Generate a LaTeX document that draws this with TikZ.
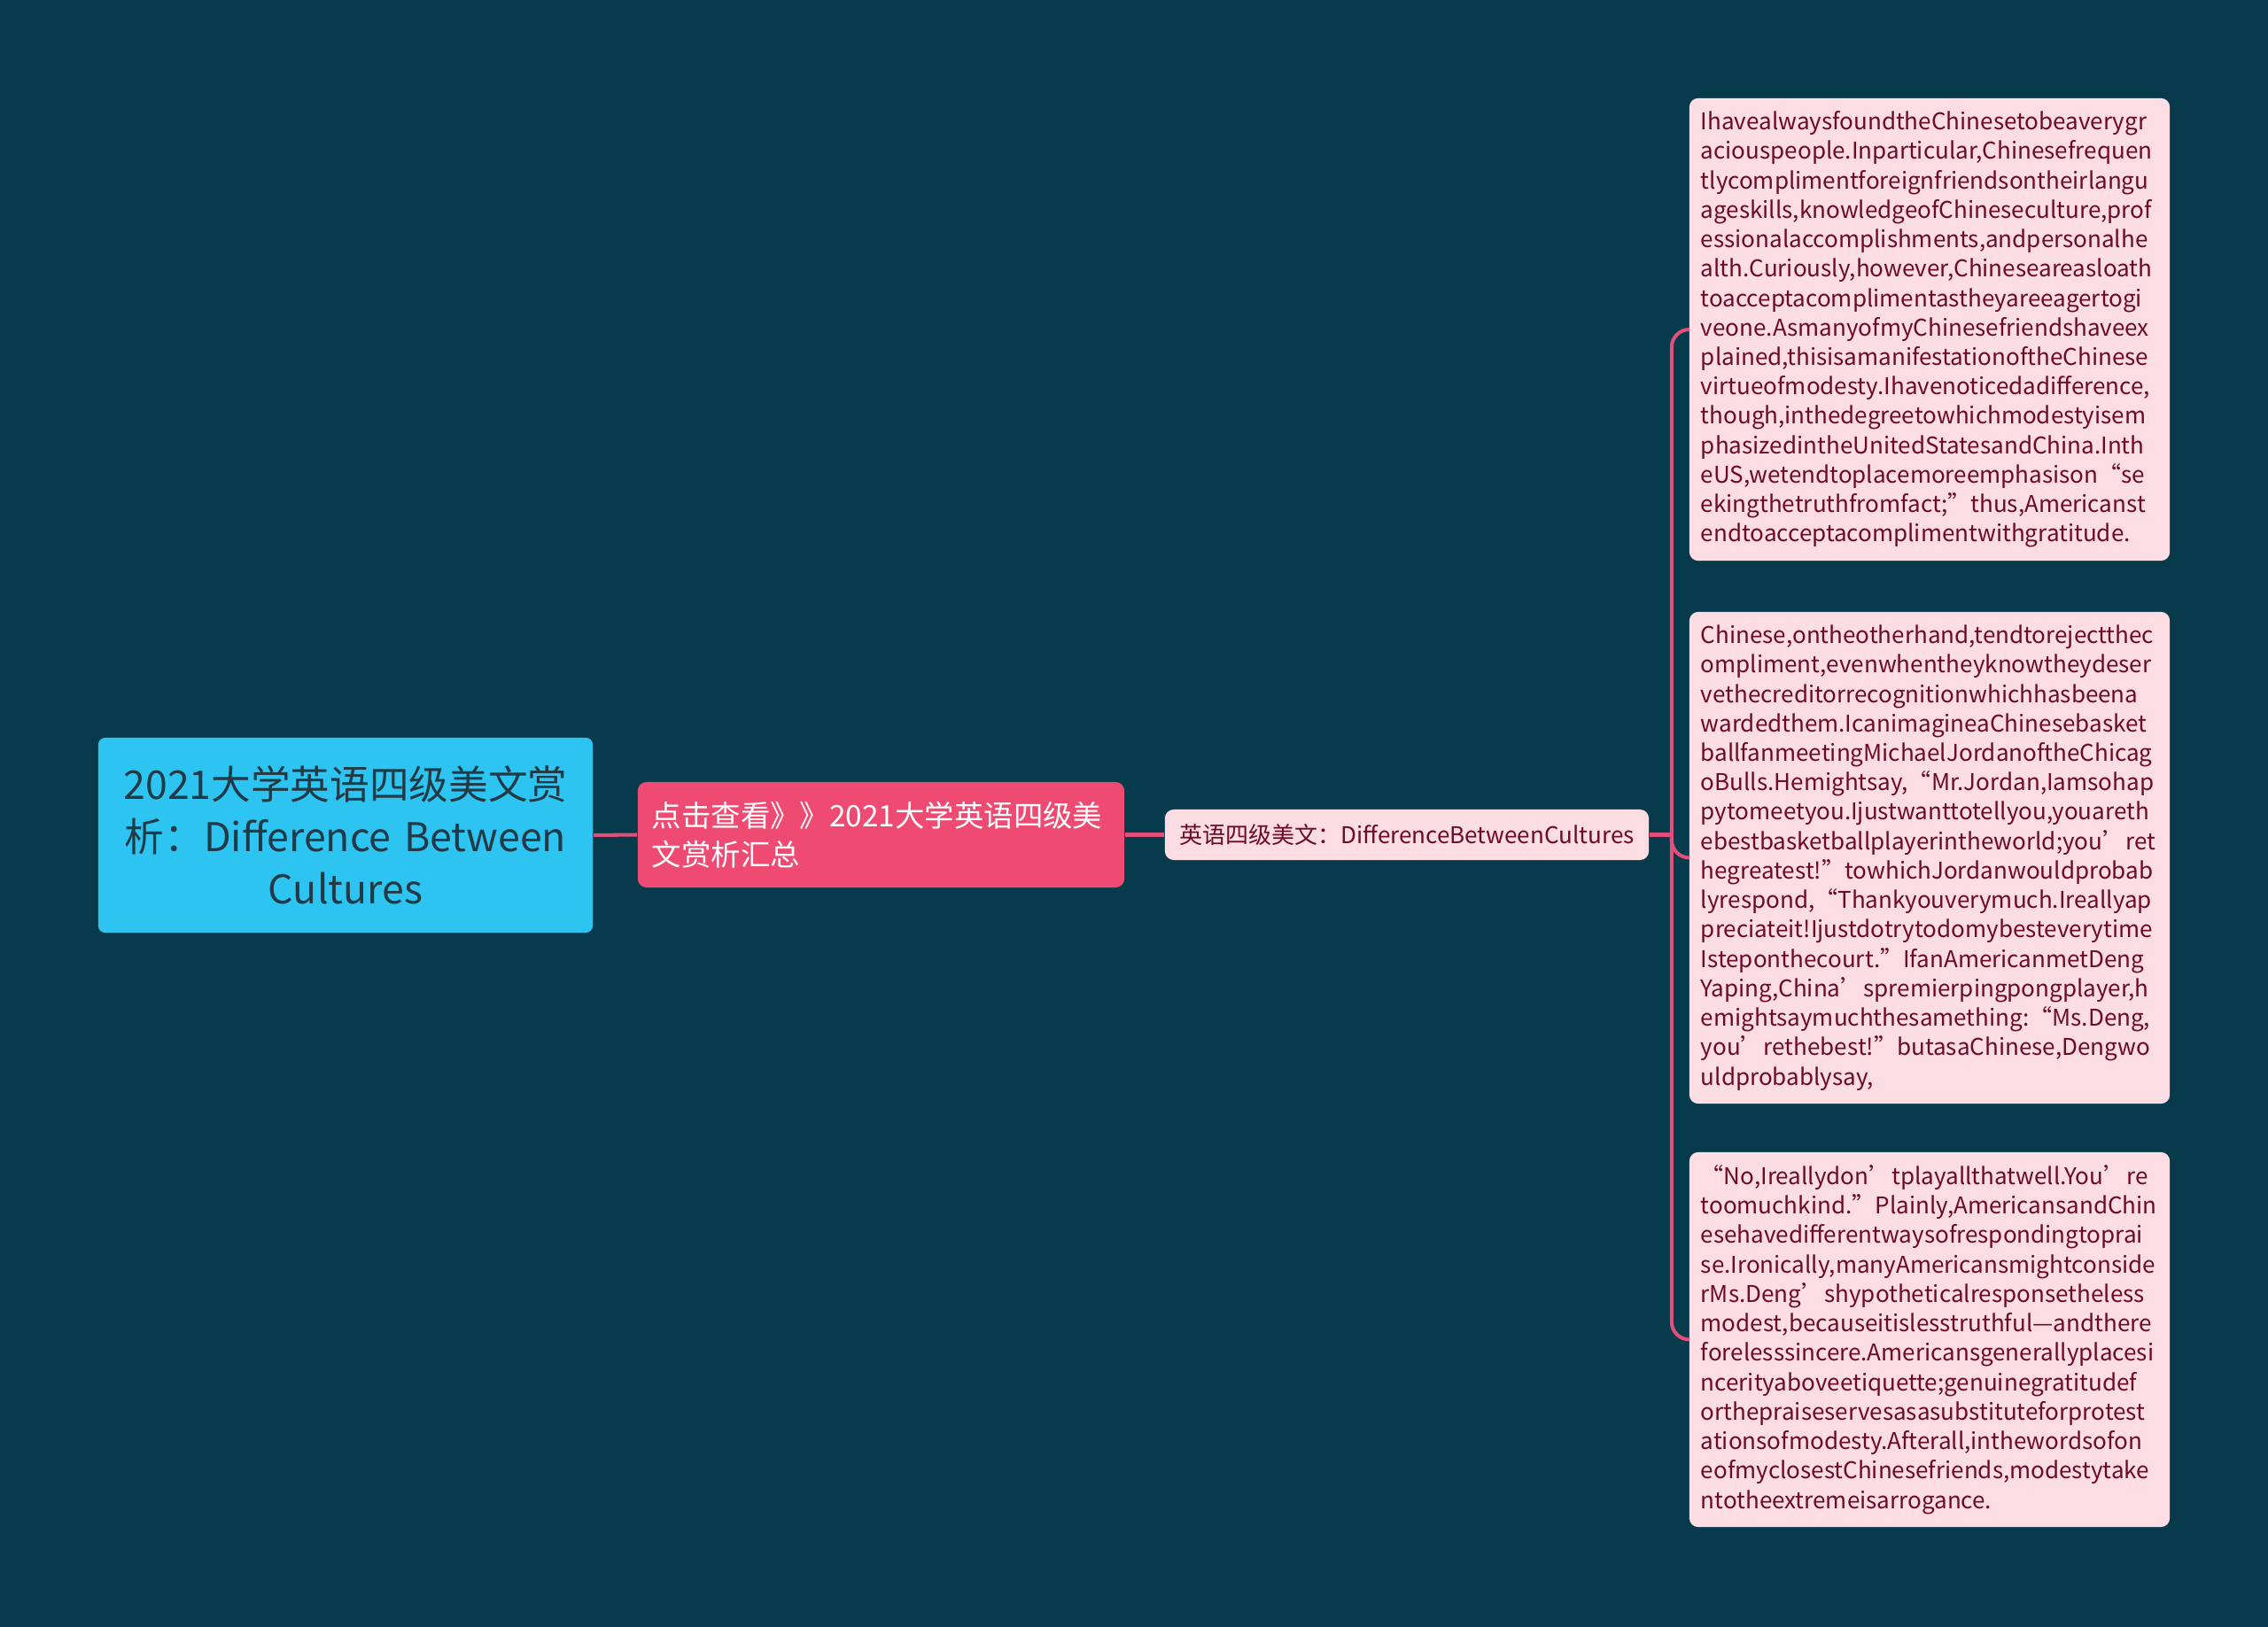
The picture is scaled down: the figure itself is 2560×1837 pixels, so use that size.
\documentclass[tikz,border=0pt]{standalone}
\usepackage{fontspec}
\setmainfont{Noto Sans CJK SC}
\usetikzlibrary{calc, positioning}
\AtBeginDocument{\hyphenpenalty=10000 \exhyphenpenalty=10000 }

\definecolor{bgteal}{HTML}{073B4C}
\definecolor{rootcyan}{HTML}{2EC4F2}
\definecolor{roottext}{HTML}{213A45}
\definecolor{sumpink}{HTML}{EE4A72}
\definecolor{leafpink}{HTML}{FCDDE3}
\definecolor{leaftext}{HTML}{6E0B24}
\definecolor{linkpink}{HTML}{E0507A}

\tikzset{
  rootbox/.style={fill=rootcyan, text=roottext, rounded corners=0.08cm,
    minimum width=5.58cm, minimum height=2.2cm, inner sep=0.1cm,
    text width=5.38cm, align=center, font=\fontsize{12.7pt}{16.7pt}\selectfont},
  sumbox/.style={fill=sumpink, text=white, rounded corners=0.1cm,
    minimum width=5.49cm, minimum height=1.19cm, inner sep=0.16cm,
    text width=5.17cm, align=left, font=\fontsize{9.5pt}{12.5pt}\selectfont},
  leafbox/.style={fill=leafpink, text=leaftext, rounded corners=0.1cm,
    minimum width=5.42cm, inner sep=0.13cm, text width=5.16cm, align=left,
    font=\fontsize{7.4pt}{9.45pt}\selectfont},
  titlebox/.style={leafbox, minimum width=5.4cm, minimum height=0.57cm,
    text width=5.2cm, align=center},
  link/.style={draw=linkpink, line width=1.15pt},
}

\begin{document}
\begin{tikzpicture}[x=0.01cm,y=-0.01cm]
\fill[bgteal] (0,0) rectangle (2560,1837);
\useasboundingbox (0,0) rectangle (2560,1837);

\node[rootbox] (root) at (390,943)
  {2021大学英语四级美文赏\\析：Difference Between\\Cultures};
\node[sumbox] (sum) at (994.5,942.5)
  {点击查看》》2021大学英语四级美\\文赏析汇总};
\node[titlebox] (title) at (1588,942.5)
  {英语四级美文：DifferenceBetweenCultures};

\node[leafbox, minimum height=5.22cm] (para1) at (2178,372) {%
IhavealwaysfoundtheChinesetobeaverygr\\
aciouspeople.Inparticular,Chinesefrequen\\
tlycomplimentforeignfriendsontheirlangu\\
ageskills,knowledgeofChineseculture,prof\\
essionalaccomplishments,andpersonalhe\\
alth.Curiously,however,Chineseareasloath\\
toacceptacomplimentastheyareeagertogi\\
veone.AsmanyofmyChinesefriendshaveex\\
plained,thisisamanifestationoftheChinese\\
virtueofmodesty.Ihavenoticedadifference,\\
though,inthedegreetowhichmodestyisem\\
phasizedintheUnitedStatesandChina.Inth\\
eUS,wetendtoplacemoreemphasison“se\\
ekingthetruthfromfact;”thus,Americanst\\
endtoacceptacomplimentwithgratitude.};

\node[leafbox, minimum height=5.55cm] (para2) at (2178,968.5) {%
Chinese,ontheotherhand,tendtorejectthec\\
ompliment,evenwhentheyknowtheydeser\\
vethecreditorrecognitionwhichhasbeena\\
wardedthem.IcanimagineaChinesebasket\\
ballfanmeetingMichaelJordanoftheChicag\\
oBulls.Hemightsay,“Mr.Jordan,Iamsohap\\
pytomeetyou.Ijustwanttotellyou,youareth\\
ebestbasketballplayerintheworld;you’ret\\
hegreatest!”towhichJordanwouldprobab\\
lyrespond,“Thankyouverymuch.Ireallyap\\
preciateit!Ijustdotrytodomybesteverytime\\
Isteponthecourt.”IfanAmericanmetDeng\\
Yaping,China’spremierpingpongplayer,h\\
emightsaymuchthesamething:“Ms.Deng,\\
you’rethebest!”butasaChinese,Dengwo\\
uldprobablysay,};

\node[leafbox, minimum height=4.23cm] (para3) at (2178,1512.5) {%
“No,Ireallydon’tplayallthatwell.You’re\\
toomuchkind.”Plainly,AmericansandChin\\
esehavedifferentwaysofrespondingtoprai\\
se.Ironically,manyAmericansmightconside\\
rMs.Deng’shypotheticalresponsetheless\\
modest,becauseitislesstruthful—andthere\\
forelesssincere.Americansgenerallyplacesi\\
ncerityaboveetiquette;genuinegratitudef\\
orthepraiseservesasasubstituteforprotest\\
ationsofmodesty.Afterall,inthewordsofon\\
eofmyclosestChinesefriends,modestytake\\
ntotheextremeisarrogance.};

\coordinate (fork) at ($(title.east)+(25,0)$);

\draw[link] (root.east) -- (sum.west);
\draw[link] (sum.east) -- (title.west);
\draw[link] (title.east) -- (fork);
\draw[link, rounded corners=0.2cm] (para1.west) -| (fork) |- (para3.west);
\draw[link, rounded corners=0.2cm] (fork) |- (para2.west);
\end{tikzpicture}
\end{document}
